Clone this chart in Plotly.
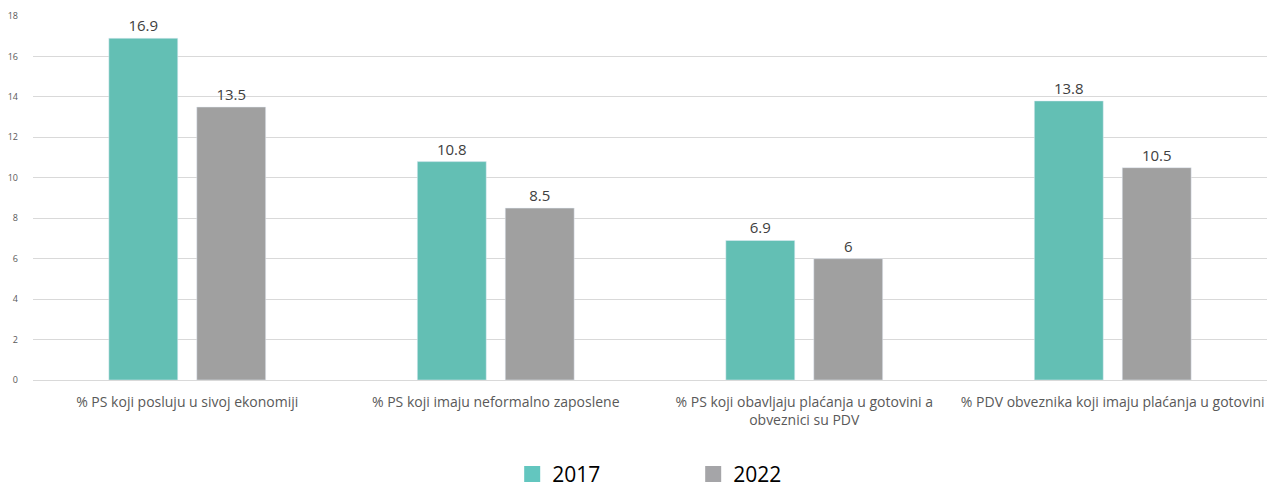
import plotly.graph_objects as go

categories = [
    "% PS koji posluju u sivoj ekonomiji",
    "% PS koji imaju neformalno zaposlene",
    "% PS koji obavljaju plaćanja u gotovini a<br>obveznici su PDV",
    "% PDV obveznika koji imaju plaćanja u gotovini",
]
series_names = ["2017", "2022"]
values_2017 = [16.9, 10.8, 6.9, 13.8]
values_2022 = [13.5, 8.5, 6, 10.5]
y_ticks = [0, 2, 4, 6, 8, 10, 12, 14, 16, 18]

FONT = "Open Sans"
COLORS = ["#63BFB4", "#A0A0A0"]
LEGEND_COLORS = ["#63C6BF", "#A5A5A8"]

fig = go.Figure()
for name, vals, col in zip(series_names, [values_2017, values_2022], COLORS):
    fig.add_trace(go.Bar(
        name=name, x=categories, y=vals,
        marker=dict(color=col),
        text=[f"{v:g}" for v in vals], textposition="outside",
        textfont=dict(size=15, color="#404040", family=FONT),
        cliponaxis=False, showlegend=False,
    ))
# legend-only entries with larger square symbols
for name, col in zip(series_names, LEGEND_COLORS):
    fig.add_trace(go.Scatter(
        name=name, x=[None], y=[None], mode="markers",
        marker=dict(symbol="square", size=22, color=col),
        showlegend=True,
    ))

fig.update_layout(
    width=1267, height=488,
    margin=dict(l=33, r=0, t=16, b=108),
    plot_bgcolor="white", paper_bgcolor="white",
    barmode="group", bargap=0.43, bargroupgap=0.216,
    font=dict(family=FONT, color="#595959"),
    showlegend=True,
    legend=dict(
        orientation="h", x=0.535, xanchor="center",
        yref="container", y=0.028, yanchor="middle",
        font=dict(size=21, color="#000000", family=FONT),
        entrywidth=136, itemwidth=30,
    ),
)
fig.update_yaxes(
    range=[0, 18], tickvals=y_ticks, showgrid=True, gridcolor="#D9D9D9",
    zeroline=True, zerolinecolor="#D9D9D9", zerolinewidth=1,
    tickfont=dict(size=9, color="#595959"), ticks="", showline=False,
    ticklabelstandoff=14, automargin=False,
)
fig.update_xaxes(
    showline=False, ticks="", automargin=False,
    tickfont=dict(size=14, color="#595959"),
    ticklabelstandoff=12,
)

fig.write_html(
    "out.html",
    config={"displayModeBar": False},
    post_script="document.body.style.margin='0';document.body.style.overflow='hidden';",
)
